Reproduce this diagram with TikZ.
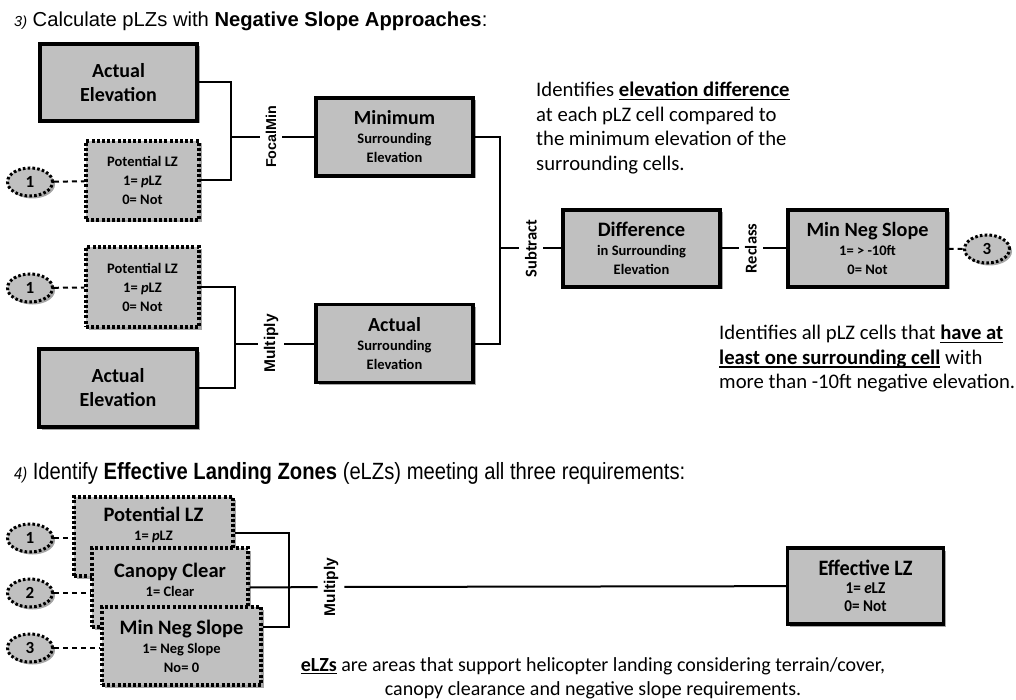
\documentclass[tikz,border=0pt]{standalone}
\usepackage{fontspec}
\setmainfont{Carlito}
\newfontfamily\arialfont{Liberation Sans}
\newfontfamily\arialnarrow[FakeStretch=0.86]{Liberation Sans}
\newfontfamily\calnarrow[FakeStretch=0.92]{Carlito}
\usetikzlibrary{shapes.geometric,shadows,calc}

\definecolor{boxgray}{HTML}{C0C0C0}
\newcommand\fsHead{\fontsize{20}{24}\selectfont}
\newcommand\fsMid{\fontsize{20.5}{23}\selectfont}
\newcommand\fsSub{\fontsize{14.5}{19}\selectfont}
\newcommand\fsBody{\fontsize{20.7}{24.5}\selectfont}
% bold phrase with a heavier underline
\newcommand\keyphrase[1]{\setbox0\hbox{\bfseries #1}\leavevmode\rlap{\rule[-3.4pt]{\wd0}{1.6pt}}\box0\relax}

\begin{document}
\begin{tikzpicture}[x=1pt,y=-1pt,
  boxshade/.style={drop shadow={shadow xshift=2.5pt,shadow yshift=-2.5pt,opacity=0.35,fill=black}},
  block/.style={draw, line width=3.3pt, fill=boxgray, boxshade, align=center,
    inner sep=0pt, font=\bfseries\fsSub},
  dotblock/.style={block, dash pattern=on 3pt off 2.2pt},
  bubble/.style={ellipse, draw, line width=3pt, dash pattern=on 2.6pt off 2.2pt,
    fill=boxgray, boxshade, minimum width=45pt, minimum height=28pt, inner sep=0pt,
    font=\bfseries\fontsize{17}{19}\selectfont},
  oplabel/.style={rotate=90, inner sep=6pt, font=\bfseries\fontsize{16.5}{18}\selectfont},
  oplabelA/.style={oplabel, font=\arialfont\bfseries\fontsize{15.5}{18}\selectfont},
  link/.style={line width=2pt},
  dashlink/.style={line width=2pt, dash pattern=on 5pt off 4pt},
  caption/.style={inner sep=0pt, align=center, font=\bfseries\fsSub}
]
\useasboundingbox (0,0) rectangle (1016,700);

% ---------- section 3 ----------
\node[anchor=base west, inner sep=0pt, font=\arialfont\fontsize{20.2}{24}\selectfont] (title3) at (14,27)
  {{\itshape\fontsize{14.5}{16}\selectfont 3)} Calculate pLZs with \textbf{Negative Slope Approaches}:};

\node[block, minimum width=157pt, minimum height=77pt, font=\bfseries\fsHead] (ae1) at (118.5,82.5) {Actual\\Elevation};
\node[dotblock, minimum width=113pt, minimum height=79pt] (plz1) at (142.5,180.5) {Potential LZ\\1= \textit{p}LZ\\0= Not};
\node[bubble] (o1a) at (30,182) {1};

\node[dotblock, minimum width=113pt, minimum height=80pt] (plz2) at (142.5,287) {Potential LZ\\1= \textit{p}LZ\\0= Not};
\node[bubble] (o1b) at (30,288) {1};
\node[block, minimum width=158pt, minimum height=78pt, font=\bfseries\fsHead] (ae2) at (118,388) {Actual\\Elevation};

\node[block, minimum width=157pt, minimum height=78pt] (mse) at (394.5,137) {{\fsHead Minimum}\\Surrounding\\Elevation};
\node[block, minimum width=157pt, minimum height=78pt] (ase) at (394.5,343.5) {{\fsHead Actual}\\Surrounding\\Elevation};

\node[block, minimum width=157pt, minimum height=77pt] (diff) at (641.5,248.5) {{\fontsize{20.5}{23}\selectfont Difference}\\in Surrounding\\Elevation};
\node[block, minimum width=159pt, minimum height=77pt] (mns) at (867.5,248.5) {{\fontsize{20.2}{23}\selectfont Min Neg Slope}\\1= {>} -10ft\\0= Not};
\node[bubble] (o3a) at (987,249) {3};

\coordinate (j1) at (231,137);
\coordinate (j2) at (500,248.5);
\coordinate (j3) at (235,343.5);

\node[oplabelA, font=\arialfont\bfseries\fontsize{14.3}{18}\selectfont] (focal) at (271,137) {FocalMin};
\node[oplabelA] (mult1) at (271,343.5) {Multiply};
\node[oplabel] (sub) at (531,248.5) {Subtract};
\node[oplabel] (recl) at (751,248.5) {Reclass};

\draw[link] (ae1.east) -| (j1) |- (plz1.east);
\draw[link] (j1) -- (focal) -- (mse);
\draw[link] (plz2.east) -| (j3) |- (ae2.east);
\draw[link] (j3) -- (mult1) -- (ase);
\draw[link] (mse.east) -| (j2) |- (ase.east);
\draw[link] (j2) -- (sub) -- (diff);
\draw[link] (diff) -- (recl) -- (mns);
\draw[dashlink] (o1a) -- (plz1);
\draw[dashlink] (o1b) -- (plz2);
\draw[dashlink] (mns) -- (o3a);

\node[anchor=north west, inner sep=0pt, align=left, font=\fsBody] (note1) at (536,82)
  {Identifies \keyphrase{elevation difference}\\at each pLZ cell compared to\\the minimum elevation of the\\surrounding cells.};
\node[anchor=north west, inner sep=0pt, align=left, font=\fsBody] (note2) at (719,325)
  {Identifies all pLZ cells that \keyphrase{have at}\\\keyphrase{least one surrounding cell} with\\more than -10ft negative elevation.};

% ---------- section 4 ----------
\node[anchor=base west, inner sep=0pt, font=\arialnarrow\fontsize{23.5}{26}\selectfont] (title4) at (14,479)
  {{\itshape\fontsize{17}{19}\selectfont 4)} Identify \textbf{Effective Landing Zones} (eLZs) meeting all three requirements:};

\node[dotblock, minimum width=159pt, minimum height=79pt] (pa) at (153.5,536.5) {};
\node[caption, anchor=north] (pa-t) at (153.5,507) {{\fsMid Potential LZ}\\1= \textit{p}LZ};
\node[dotblock, minimum width=156pt, minimum height=79pt] (cc) at (170,587.5) {};
\node[caption, anchor=north] (cc-t) at (170,563) {{\fsMid Canopy Clear}\\1= Clear};
\node[dotblock, minimum width=159pt, minimum height=78pt] (mn) at (181.5,646) {{\fsMid Min Neg Slope}\\1= Neg Slope\\No= 0};

\node[bubble] (o1c) at (30,538) {1};
\node[bubble] (o2) at (30,593) {2};
\node[bubble] (o3b) at (30,648) {3};
\draw[dashlink] (o1c) -- (o1c -| pa.west);
\draw[dashlink] (o2) -- (o2 -| cc.west);
\draw[dashlink] (o3b) -- (o3b -| mn.west);

\node[block, minimum width=156pt, minimum height=76pt, font=\calnarrow\bfseries\fontsize{16.5}{18}\selectfont] (elz) at (865.5,586)
  {{\fontsize{22}{23}\selectfont Effective LZ}\\1= \textit{e}LZ\\0= Not};

\coordinate (k1) at (289,533);
\coordinate (k2) at (289,627);
\node[oplabelA] (mult2) at (331,587) {Multiply};
\draw[link] (pa.east |- k1) -- (k1) -- (k2) -- (mn.east |- k2);
\draw[link] (cc.east) -- (mult2) -- (elz);

\node[anchor=north, inner sep=0pt, align=center, font=\fontsize{20}{24}\selectfont] (note3) at (593,657)
  {\keyphrase{eLZs} are areas that support helicopter landing considering terrain/cover,\\canopy clearance and negative slope requirements.};
\end{tikzpicture}
\end{document}
